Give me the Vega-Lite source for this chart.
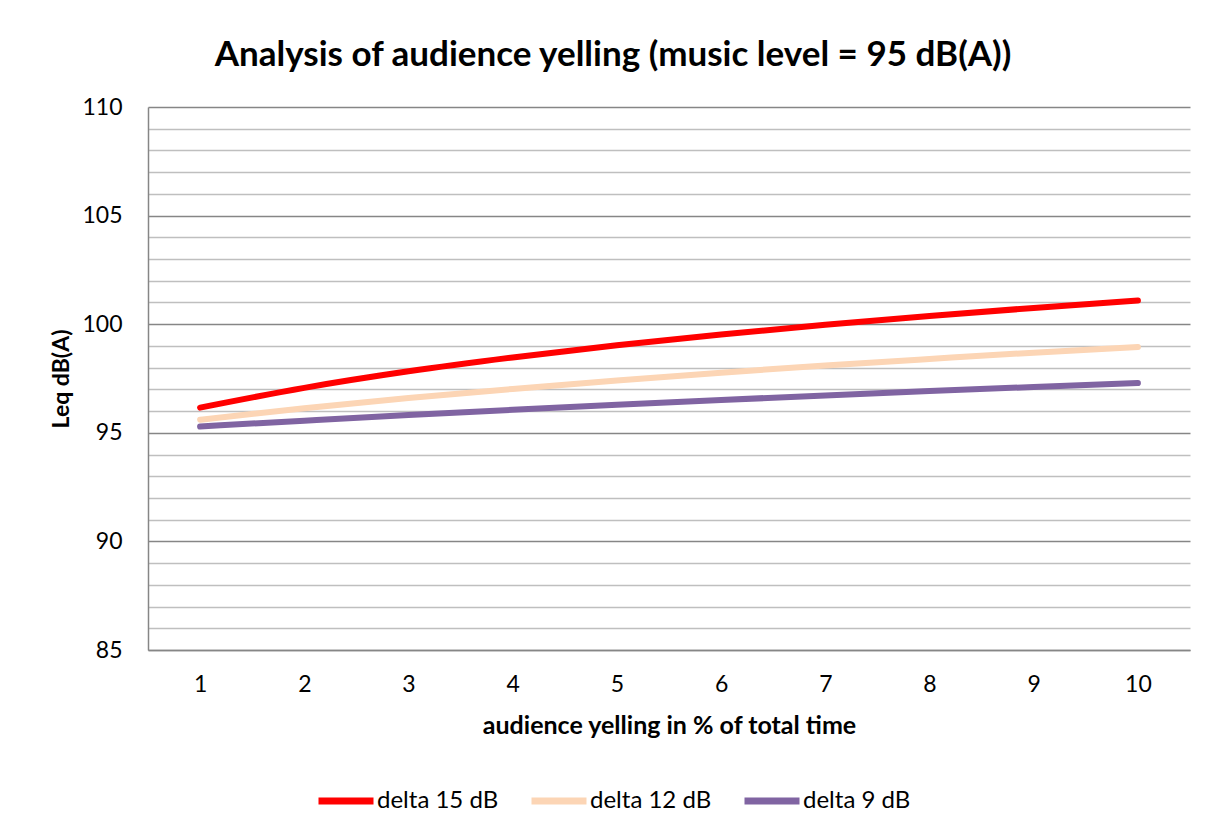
{
  "$schema": "https://vega.github.io/schema/vega-lite/v6.json",
  "width": 1042,
  "height": 543,
  "autosize": {"type": "none"},
  "padding": {"left": 148, "top": 107, "right": 24, "bottom": 180},
  "background": "white",
  "title": {
    "text": "Analysis of audience yelling (music level = 95 dB(A))",
    "font": "Lato",
    "fontSize": 35,
    "fontWeight": "bold",
    "color": "#000000",
    "anchor": "middle",
    "frame": "group",
    "baseline": "alphabetic",
    "dx": -56,
    "offset": -5
  },
  "config": {
    "view": {"stroke": null},
    "font": "Lato"
  },
  "data": {
    "values": [
      {"p": 1, "series": "delta 15 dB", "leq": 96.16},
      {"p": 2, "series": "delta 15 dB", "leq": 97.07},
      {"p": 3, "series": "delta 15 dB", "leq": 97.83},
      {"p": 4, "series": "delta 15 dB", "leq": 98.47},
      {"p": 5, "series": "delta 15 dB", "leq": 99.03},
      {"p": 6, "series": "delta 15 dB", "leq": 99.53},
      {"p": 7, "series": "delta 15 dB", "leq": 99.97},
      {"p": 8, "series": "delta 15 dB", "leq": 100.38},
      {"p": 9, "series": "delta 15 dB", "leq": 100.75},
      {"p": 10, "series": "delta 15 dB", "leq": 101.09},
      {"p": 1, "series": "delta 12 dB", "leq": 95.60},
      {"p": 2, "series": "delta 12 dB", "leq": 96.13},
      {"p": 3, "series": "delta 12 dB", "leq": 96.60},
      {"p": 4, "series": "delta 12 dB", "leq": 97.02},
      {"p": 5, "series": "delta 12 dB", "leq": 97.41},
      {"p": 6, "series": "delta 12 dB", "leq": 97.77},
      {"p": 7, "series": "delta 12 dB", "leq": 98.10},
      {"p": 8, "series": "delta 12 dB", "leq": 98.40},
      {"p": 9, "series": "delta 12 dB", "leq": 98.69},
      {"p": 10, "series": "delta 12 dB", "leq": 98.95},
      {"p": 1, "series": "delta 9 dB", "leq": 95.29},
      {"p": 2, "series": "delta 9 dB", "leq": 95.56},
      {"p": 3, "series": "delta 9 dB", "leq": 95.82},
      {"p": 4, "series": "delta 9 dB", "leq": 96.06},
      {"p": 5, "series": "delta 9 dB", "leq": 96.29},
      {"p": 6, "series": "delta 9 dB", "leq": 96.51},
      {"p": 7, "series": "delta 9 dB", "leq": 96.72},
      {"p": 8, "series": "delta 9 dB", "leq": 96.92},
      {"p": 9, "series": "delta 9 dB", "leq": 97.11},
      {"p": 10, "series": "delta 9 dB", "leq": 97.29}
    ]
  },
  "mark": {"type": "line", "strokeWidth": 6, "strokeCap": "round", "strokeJoin": "round", "interpolate": "monotone"},
  "encoding": {
    "x": {
      "field": "p",
      "type": "ordinal",
      "scale": {"type": "point", "padding": 0.5},
      "axis": {
        "title": "audience yelling in % of total time",
        "titleFont": "Lato",
        "titleFontSize": 25,
        "titleFontWeight": "bold",
        "titleColor": "#000000",
        "titleBaseline": "middle",
        "titleY": 75,
        "labelAngle": 0,
        "labelFont": "Lato",
        "labelFontSize": 23,
        "labelColor": "#000000",
        "labelPadding": 34,
        "labelBaseline": "middle",
        "ticks": false,
        "grid": false,
        "domainColor": "#868686",
        "domainWidth": 1.5
      }
    },
    "y": {
      "field": "leq",
      "type": "quantitative",
      "scale": {"domain": [85, 110], "nice": false, "zero": false},
      "axis": {
        "title": "Leq dB(A)",
        "titleFont": "Lato",
        "titleFontSize": 23,
        "titleFontWeight": "bold",
        "titleColor": "#000000",
        "titleBaseline": "middle",
        "titleX": -87,
        "titleY": 271.5,
        "values": [85, 86, 87, 88, 89, 90, 91, 92, 93, 94, 95, 96, 97, 98, 99, 100, 101, 102, 103, 104, 105, 106, 107, 108, 109, 110],
        "labelExpr": "datum.value % 5 === 0 ? datum.label : ''",
        "labelOverlap": false,
        "labelFlush": false,
        "labelFont": "Lato",
        "labelFontSize": 23,
        "labelColor": "#000000",
        "labelPadding": 26,
        "ticks": false,
        "grid": true,
        "gridColor": {"condition": {"test": "datum.value % 5 === 0", "value": "#868686"}, "value": "#BFBFBF"},
        "gridWidth": 1.3,
        "domainColor": "#868686",
        "domainWidth": 1.5
      }
    },
    "color": {
      "field": "series",
      "type": "nominal",
      "scale": {
        "domain": ["delta 15 dB", "delta 12 dB", "delta 9 dB"],
        "range": ["#FF0000", "#FCD5B5", "#8064A2"]
      },
      "legend": {
        "title": null,
        "orient": "none",
        "direction": "horizontal",
        "legendX": 167,
        "legendY": 663,
        "symbolType": "stroke",
        "symbolSize": 3025,
        "symbolStrokeWidth": 7,
        "labelFont": "Lato",
        "labelFontSize": 24,
        "labelColor": "#000000",
        "labelOffset": 0,
        "columnPadding": 18
      }
    }
  }
}
